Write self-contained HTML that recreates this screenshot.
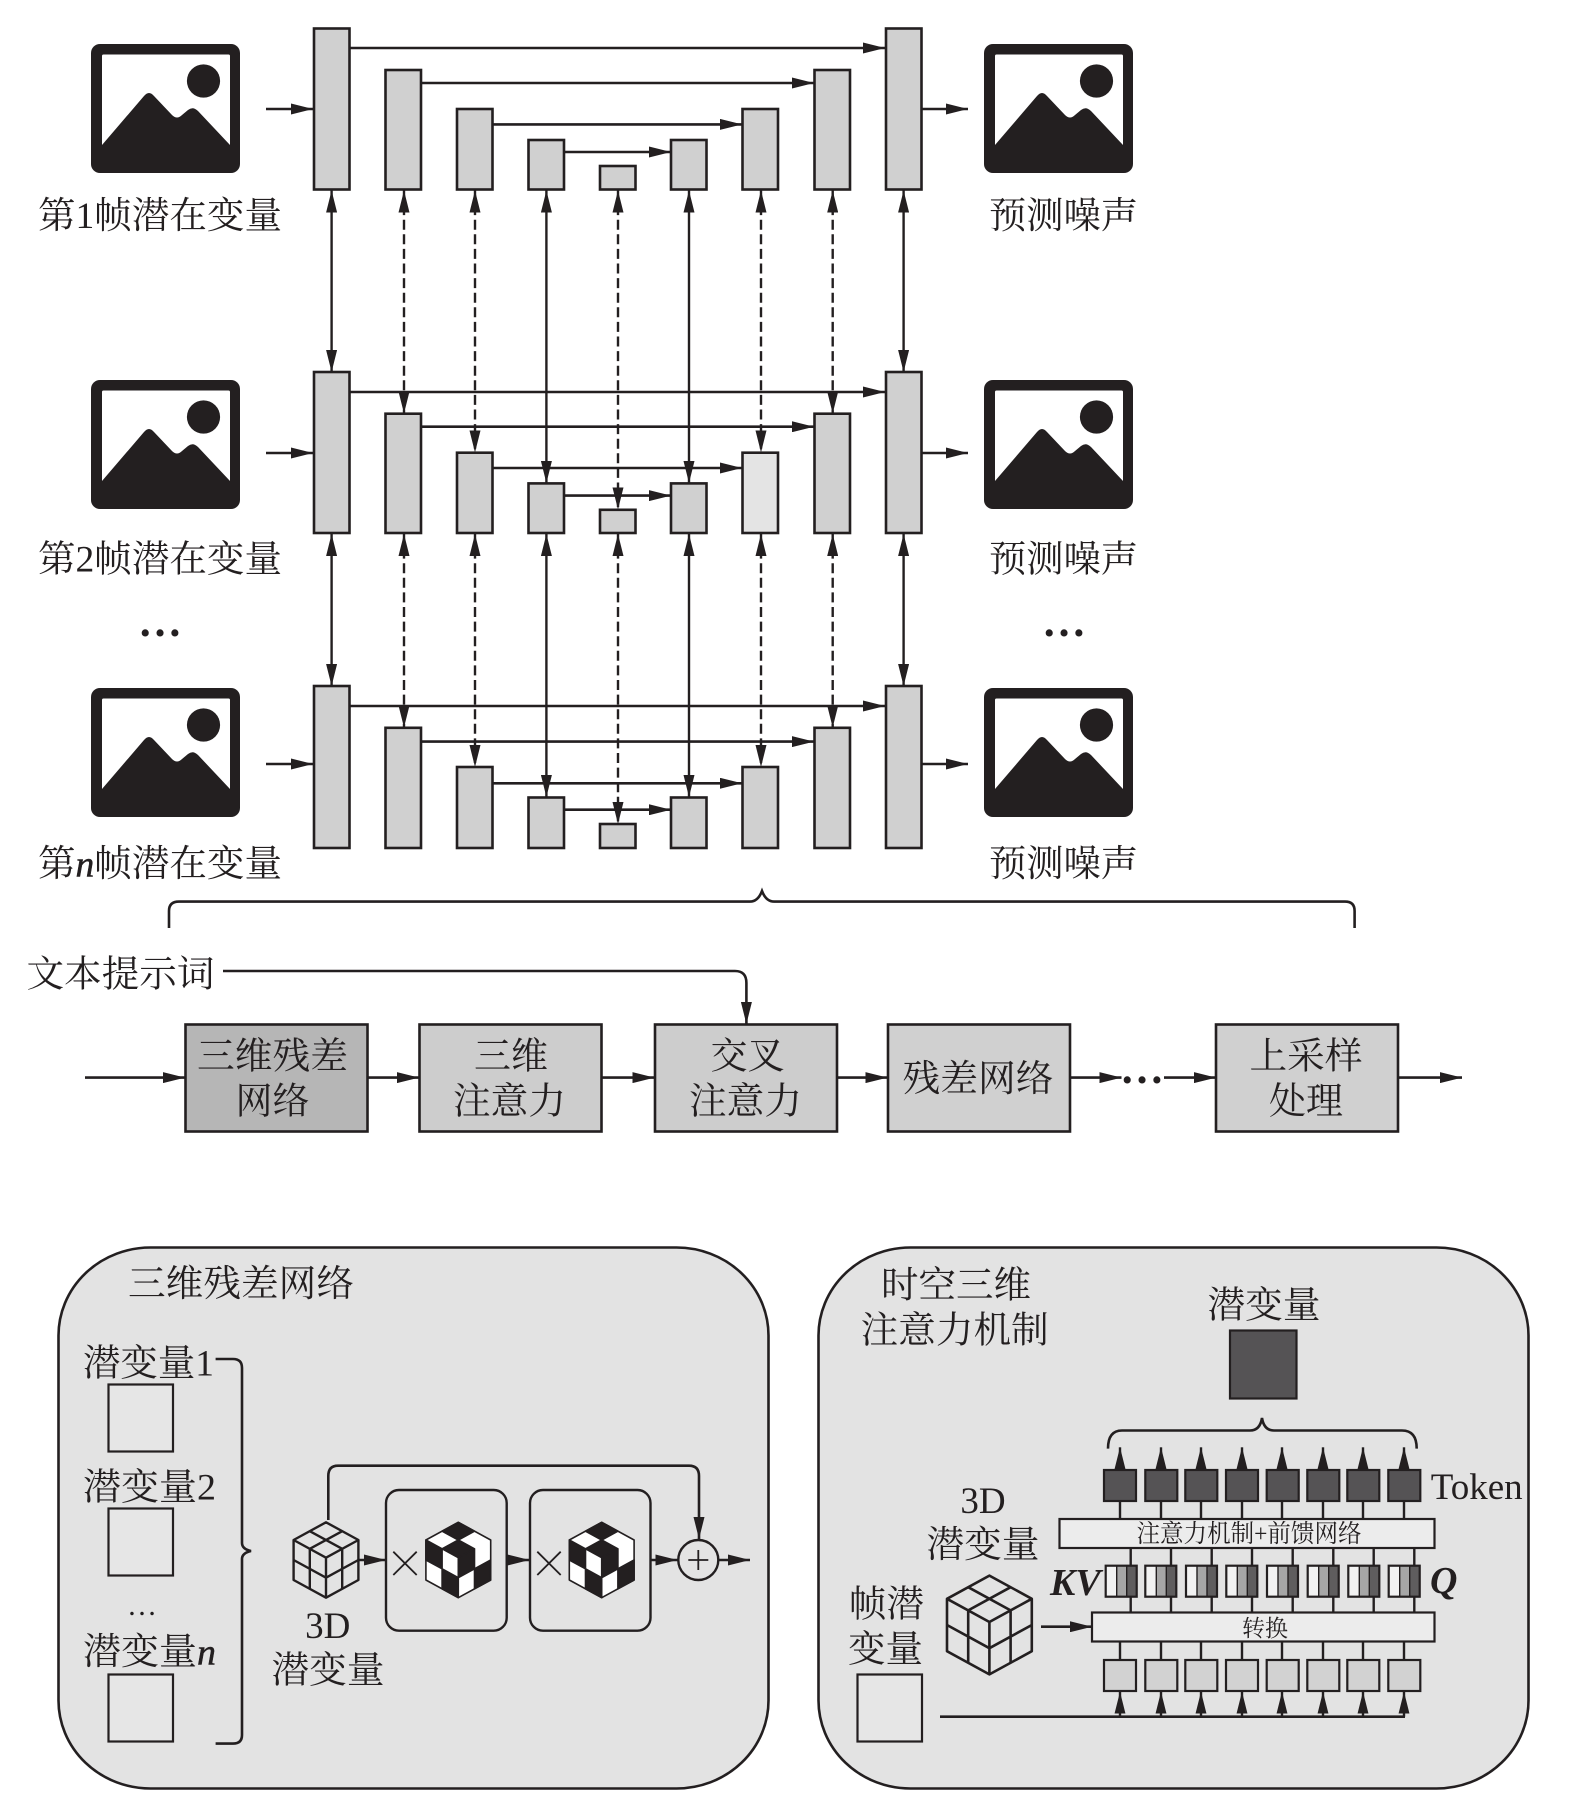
<!DOCTYPE html>
<html lang="zh"><head><meta charset="utf-8"><title>diagram</title>
<style>
html,body{margin:0;padding:0;background:#fff}
svg{display:block}
text{font-family:"Liberation Serif","Noto Serif CJK SC",serif;fill:#231f20;font-size:37px;dominant-baseline:central}
.m{text-anchor:middle}
.b{font-family:"Liberation Serif",serif;dominant-baseline:alphabetic}
.n{font-style:italic;stroke:#231f20;stroke-width:.5}
.bar{fill:#d0d0d0;stroke:#231f20;stroke-width:2.6}
.l{stroke:#231f20;stroke-width:2.6;fill:none}
.v{stroke:#231f20;stroke-width:2.4;fill:none;marker-start:url(#a);marker-end:url(#a)}
.d{stroke-dasharray:10 4.6}
.h{marker-end:url(#a)}
.s{stroke:#231f20;stroke-width:2.4;fill:none}
</style></head><body>
<svg xmlns="http://www.w3.org/2000/svg" width="1573" height="1809" viewBox="0 0 1573 1809">
<defs>
<marker id="a" viewBox="0 0 22 11" refX="22" refY="5.5" markerUnits="userSpaceOnUse" markerWidth="22" markerHeight="11" orient="auto-start-reverse"><path d="M0 0L22 5.5L0 11z" fill="#231f20"/></marker>
<g id="icon">
<rect x="0" y="0" width="149" height="129" rx="9" fill="#231f20"/>
<rect x="11" y="10.5" width="128" height="92" rx="1.5" fill="#fff"/>
<path d="M11 101L53 52Q58 46 63 52L81 71Q86 76 91 71L97 66Q102 62 107 67L139 101V106H11z" fill="#231f20"/>
<circle cx="112.5" cy="37" r="16.6" fill="#231f20"/>
</g>
<g id="wire" fill="none" stroke="#231f20" stroke-width="2.4" stroke-linejoin="round">
<path d="M0 0L-32.4 17.7V57.7L0 75.4L32.4 57.7V17.7z"/>
<path d="M-32.4 17.7L0 35.4L32.4 17.7M0 35.4V75.4M-16.2 8.85L16.2 26.55M16.2 8.85L-16.2 26.55M-16.2 26.55V66.55M16.2 26.55V66.55M-32.4 37.7L0 55.4L32.4 37.7"/>
</g>
<g id="wire2" fill="none" stroke="#231f20" stroke-width="2.6" stroke-linejoin="round">
<path d="M0 0L-42.4 23.2V75.6L0 98.8L42.4 75.6V23.2z"/>
<path d="M-42.4 23.2L0 46.4L42.4 23.2M0 46.4V98.8M-21.2 11.6L21.2 34.8M21.2 11.6L-21.2 34.8M-21.2 34.8V87.2M21.2 34.8V87.2M-42.4 49.4L0 72.6L42.4 49.4"/>
</g>
<g id="check" stroke="#231f20" stroke-width="1.6" stroke-linejoin="round">
<path d="M0 0L-32.4 17.7V57.7L0 75.4L32.4 57.7V17.7z" fill="#fff"/>
<path fill="#231f20" d="M0 0L16.2 8.85L0 17.7L-16.2 8.85zM0 17.7L16.2 26.55L0 35.4L-16.2 26.55zM-32.4 17.7L-16.2 26.55V46.55L-32.4 37.7zM-16.2 46.55L0 55.4V75.4L-16.2 66.55zM0 35.4L16.2 26.55V46.55L0 55.4zM16.2 46.55L32.4 37.7V57.7L16.2 66.55z"/>
</g>
<g id="kv">
<rect x="0" y="0" width="11" height="31" fill="#f2f2f2"/><rect x="11" y="0" width="10" height="31" fill="#a6a6a6"/><rect x="21" y="0" width="10" height="31" fill="#5f5d5e"/>
<path d="M11 0V31M21 0V31" stroke="#231f20" stroke-width="1.4"/>
<rect x="0" y="0" width="31" height="31" fill="none" stroke="#231f20" stroke-width="2.2"/>
</g>
<rect id="tok" width="32" height="31" fill="#555355" stroke="#231f20" stroke-width="2.2"/>
<rect id="lit" width="32" height="31" fill="#d2d2d2" stroke="#231f20" stroke-width="2.2"/>
</defs>

<use href="#icon" x="91" y="44"/><use href="#icon" x="984" y="44"/>
<use href="#icon" x="91" y="380"/><use href="#icon" x="984" y="380"/>
<use href="#icon" x="91" y="688"/><use href="#icon" x="984" y="688"/>

<path class="l h" d="M266 109H313"/><path class="l h" d="M921.5 109H968"/>
<path class="l h" d="M266 453H313"/><path class="l h" d="M921.5 453H968"/>
<path class="l h" d="M266 764H313"/><path class="l h" d="M921.5 764H968"/>

<rect class="bar" x="314" y="28.5" width="35.5" height="161"/><rect class="bar" x="385.5" y="70" width="35.5" height="119.5"/><rect class="bar" x="457" y="109" width="35.5" height="80.5"/><rect class="bar" x="528.5" y="140" width="35.5" height="49.5"/><rect class="bar" x="600" y="166" width="35.5" height="23.5"/><rect class="bar" x="671" y="140" width="35.5" height="49.5"/><rect class="bar" x="742.5" y="109" width="35.5" height="80.5"/><rect class="bar" x="814.5" y="70" width="35.5" height="119.5"/><rect class="bar" x="886" y="28.5" width="35.5" height="161"/>
<rect class="bar" x="314" y="372" width="35.5" height="161"/><rect class="bar" x="385.5" y="413.7" width="35.5" height="119.3"/><rect class="bar" x="457" y="452.7" width="35.5" height="80.3"/><rect class="bar" x="528.5" y="483.4" width="35.5" height="49.6"/><rect class="bar" x="600" y="509.8" width="35.5" height="23.2"/><rect class="bar" x="671" y="483.4" width="35.5" height="49.6"/><rect class="bar" x="742.5" y="452.7" width="35.5" height="80.3" style="fill:#e4e4e4"/><rect class="bar" x="814.5" y="413.7" width="35.5" height="119.3"/><rect class="bar" x="886" y="372" width="35.5" height="161"/>
<rect class="bar" x="314" y="686" width="35.5" height="162"/><rect class="bar" x="385.5" y="727.8" width="35.5" height="120.2"/><rect class="bar" x="457" y="767" width="35.5" height="81"/><rect class="bar" x="528.5" y="797.5" width="35.5" height="50.5"/><rect class="bar" x="600" y="824" width="35.5" height="24"/><rect class="bar" x="671" y="797.5" width="35.5" height="50.5"/><rect class="bar" x="742.5" y="767" width="35.5" height="81"/><rect class="bar" x="814.5" y="727.8" width="35.5" height="120.2"/><rect class="bar" x="886" y="686" width="35.5" height="162"/>

<path class="l h" d="M349.5 48H885"/><path class="l h" d="M421 83H814"/><path class="l h" d="M492.5 124.4H742"/><path class="l h" d="M564 152H671"/>
<path class="l h" d="M349.5 392H885"/><path class="l h" d="M421 426.7H814"/><path class="l h" d="M492.5 468H742"/><path class="l h" d="M564 495.6H671"/>
<path class="l h" d="M349.5 706H885"/><path class="l h" d="M421 741.6H814"/><path class="l h" d="M492.5 783.3H742"/><path class="l h" d="M564 809.7H671"/>

<path class="v" d="M331.6 190.5V372"/><path class="v d" d="M404 190.5V413.5"/><path class="v d" d="M475 190.5V452.5"/><path class="v" d="M546.4 190.5V483"/><path class="v d" d="M618 190.5V509.5"/><path class="v" d="M689 190.5V483"/><path class="v d" d="M761 190.5V452.5"/><path class="v d" d="M832.7 190.5V413.5"/><path class="v" d="M903.6 190.5V372"/>
<path class="v" d="M331.6 534V686"/><path class="v d" d="M404 534V727.5"/><path class="v d" d="M475 534V767"/><path class="v" d="M546.4 534V797"/><path class="v d" d="M618 534V824"/><path class="v" d="M689 534V797"/><path class="v d" d="M761 534V767"/><path class="v d" d="M832.7 534V727.5"/><path class="v" d="M903.6 534V686"/>

<text x="38" y="216.5" textLength="244" lengthAdjust="spacingAndGlyphs">第1帧潜在变量</text>
<text x="38" y="560" textLength="244" lengthAdjust="spacingAndGlyphs">第2帧潜在变量</text>
<text x="38" y="864.5" textLength="244" lengthAdjust="spacingAndGlyphs">第<tspan class="n">n</tspan>帧潜在变量</text>
<text x="989" y="216.5" textLength="149" lengthAdjust="spacingAndGlyphs">预测噪声</text>
<text x="989" y="560" textLength="149" lengthAdjust="spacingAndGlyphs">预测噪声</text>
<text x="989" y="864.5" textLength="149" lengthAdjust="spacingAndGlyphs">预测噪声</text>
<text class="m b" x="160" y="636" font-weight="bold" style="font-size:44px">…</text>
<text class="m b" x="1064" y="636" font-weight="bold" style="font-size:44px">…</text>

<path class="l" d="M169 928V911Q169 901.6 179 901.6H750Q758 901.6 762 891Q766 901.6 774 901.6H1345Q1354.6 901.6 1354.6 911V928"/>

<text x="26.5" y="975" textLength="188" lengthAdjust="spacingAndGlyphs">文本提示词</text>
<path class="l h" d="M223 971H735Q746.4 971 746.4 983V1024"/>

<rect class="bar" x="185.5" y="1024.5" width="182" height="107" style="fill:#b6b6b6"/>
<rect class="bar" x="419.5" y="1024.5" width="182" height="107" style="fill:#cdcdcd"/>
<rect class="bar" x="655" y="1024.5" width="182" height="107" style="fill:#cdcdcd"/>
<rect class="bar" x="888" y="1024.5" width="182" height="107"/>
<rect class="bar" x="1216" y="1024.5" width="182" height="107"/>
<path class="l h" d="M85 1077.6H185"/><path class="l h" d="M367.5 1077.6H419"/><path class="l h" d="M601.5 1077.6H654.5"/><path class="l h" d="M837 1077.6H887.5"/><path class="l h" d="M1070 1077.6H1121.5"/><path class="l h" d="M1164 1077.6H1216"/><path class="l h" d="M1398.5 1077.6H1462"/>
<text class="m b" x="1142" y="1083" font-weight="bold" style="font-size:44px">…</text>
<text class="m" x="272.5" y="1057" textLength="151" lengthAdjust="spacingAndGlyphs">三维残差</text>
<text class="m" x="272.5" y="1102">网络</text>
<text class="m" x="511" y="1057">三维</text>
<text class="m" x="509.5" y="1102" textLength="113" lengthAdjust="spacingAndGlyphs">注意力</text>
<text class="m" x="747.5" y="1057">交叉</text>
<text class="m" x="745.5" y="1102" textLength="113" lengthAdjust="spacingAndGlyphs">注意力</text>
<text class="m" x="978" y="1079.5" textLength="151" lengthAdjust="spacingAndGlyphs">残差网络</text>
<text class="m" x="1306" y="1057" textLength="113" lengthAdjust="spacingAndGlyphs">上采样</text>
<text class="m" x="1306" y="1102">处理</text>

<rect x="58.5" y="1247.5" width="710" height="541" rx="92" ry="88" fill="#e3e3e3" stroke="#231f20" stroke-width="2.6"/>
<text x="128" y="1284.5" textLength="226" lengthAdjust="spacingAndGlyphs">三维残差网络</text>
<text x="83" y="1364" textLength="131" lengthAdjust="spacingAndGlyphs">潜变量1</text>
<rect x="108.5" y="1384.5" width="64.5" height="67" fill="#e6e6e6" stroke="#231f20" stroke-width="2.2"/>
<text x="83" y="1488" textLength="133" lengthAdjust="spacingAndGlyphs">潜变量2</text>
<rect x="108.5" y="1508.5" width="64.5" height="67" fill="#e6e6e6" stroke="#231f20" stroke-width="2.2"/>
<text class="m b" x="142" y="1615" style="font-size:30px">…</text>
<text x="83" y="1652.5" textLength="133" lengthAdjust="spacingAndGlyphs">潜变量<tspan class="n">n</tspan></text>
<rect x="108.5" y="1674.5" width="64.5" height="67" fill="#e6e6e6" stroke="#231f20" stroke-width="2.2"/>
<path class="l" d="M215.6 1359H233Q242 1359 242 1368V1543Q242 1549 251 1551Q242 1553 242 1559V1735Q242 1743.6 233 1743.6H215.6"/>

<use href="#wire" x="326" y="1522.3"/>
<text class="m b" x="327.7" y="1638" style="font-size:37px">3D</text>
<text x="271.5" y="1671" textLength="113" lengthAdjust="spacingAndGlyphs">潜变量</text>
<path class="l" d="M328.3 1520V1476Q328.3 1465.7 338 1465.7H689Q699 1465.7 699 1476V1539" style="marker-end:url(#a)"/>
<rect x="386" y="1490" width="120.7" height="140.7" rx="13" fill="none" stroke="#231f20" stroke-width="2.4"/>
<rect x="530" y="1490" width="120.5" height="140.7" rx="13" fill="none" stroke="#231f20" stroke-width="2.4"/>
<path d="M393.3 1551.7L416.7 1575M416.7 1551.7L393.3 1575M537.3 1551.7L560.7 1575M560.7 1551.7L537.3 1575" stroke="#231f20" stroke-width="1.8" fill="none"/>
<use href="#check" x="458.3" y="1522.3"/><use href="#check" x="601.7" y="1522.3"/>
<path class="l h" d="M358.7 1560H386"/><path class="l h" d="M506.7 1560H529.5"/><path class="l h" d="M650.5 1560H677.5"/>
<circle cx="698.3" cy="1560" r="20" fill="none" stroke="#231f20" stroke-width="2.4"/>
<path d="M688.3 1560H708.3M698.3 1550V1570" stroke="#231f20" stroke-width="1.8"/>
<path class="l h" d="M719 1560H750"/>

<rect x="818.5" y="1247.5" width="710" height="541" rx="92" ry="88" fill="#e3e3e3" stroke="#231f20" stroke-width="2.6"/>
<text class="m" x="956" y="1286" textLength="150" lengthAdjust="spacingAndGlyphs">时空三维</text>
<text class="m" x="954.7" y="1331" textLength="188" lengthAdjust="spacingAndGlyphs">注意力机制</text>
<text class="m" x="1264" y="1306" textLength="113" lengthAdjust="spacingAndGlyphs">潜变量</text>
<rect x="1230" y="1330.5" width="66.5" height="68" fill="#555355" stroke="#231f20" stroke-width="2.2"/>
<path class="l" d="M1108 1448.6Q1108 1430.5 1122 1430.5H1250Q1260 1430.5 1262 1418Q1264 1430.5 1274 1430.5H1402Q1416.7 1430.5 1416.7 1448.6"/>

<path class="s h" d="M1120 1470V1447.3"/><path class="s h" d="M1161 1470V1447.3"/><path class="s h" d="M1201 1470V1447.3"/><path class="s h" d="M1242 1470V1447.3"/><path class="s h" d="M1282 1470V1447.3"/><path class="s h" d="M1323 1470V1447.3"/><path class="s h" d="M1363 1470V1447.3"/><path class="s h" d="M1404 1470V1447.3"/>
<use href="#tok" x="1104" y="1470"/><use href="#tok" x="1145.3" y="1470"/><use href="#tok" x="1185.3" y="1470"/><use href="#tok" x="1226" y="1470"/><use href="#tok" x="1266.7" y="1470"/><use href="#tok" x="1307.3" y="1470"/><use href="#tok" x="1347.3" y="1470"/><use href="#tok" x="1388.3" y="1470"/>
<text class="b" x="1430.7" y="1499" style="font-size:37px">Token</text>
<path class="s" d="M1120 1501V1519M1161 1501V1519M1201 1501V1519M1242 1501V1519M1282 1501V1519M1323 1501V1519M1363 1501V1519M1404 1501V1519"/>
<rect x="1059.5" y="1519" width="375" height="29" fill="#ececec" stroke="#231f20" stroke-width="2.2"/>
<text class="m" x="1249" y="1534.5" textLength="225" lengthAdjust="spacingAndGlyphs" style="font-size:25px">注意力机制+前馈网络</text>
<path class="s" d="M1130.7 1548V1566M1171 1548V1566M1211.7 1548V1566M1252 1548V1566M1292.7 1548V1566M1333.3 1548V1566M1373.7 1548V1566M1414.3 1548V1566M1130.7 1597V1612.5M1171 1597V1612.5M1211.7 1597V1612.5M1252 1597V1612.5M1292.7 1597V1612.5M1333.3 1597V1612.5M1373.7 1597V1612.5M1414.3 1597V1612.5"/>
<use href="#kv" x="1105.7" y="1565.7"/><use href="#kv" x="1145.3" y="1565.7"/><use href="#kv" x="1186" y="1565.7"/><use href="#kv" x="1226.3" y="1565.7"/><use href="#kv" x="1267" y="1565.7"/><use href="#kv" x="1307.7" y="1565.7"/><use href="#kv" x="1348.3" y="1565.7"/><use href="#kv" x="1388.7" y="1565.7"/>
<text class="b" x="1050" y="1595" font-weight="bold" font-style="italic" style="font-size:38px">KV</text>
<text class="b" x="1430" y="1593" font-weight="bold" font-style="italic" style="font-size:38px">Q</text>
<rect x="1092" y="1612.5" width="342.5" height="29" fill="#ececec" stroke="#231f20" stroke-width="2.2"/>
<text class="m" x="1265" y="1628.5" style="font-size:23px">转换</text>
<path class="l h" d="M1041 1626.7H1092"/>
<path class="s" d="M1120 1641.5V1660M1161 1641.5V1660M1201 1641.5V1660M1242 1641.5V1660M1282 1641.5V1660M1323 1641.5V1660M1363 1641.5V1660M1404 1641.5V1660"/>
<use href="#lit" x="1104" y="1660"/><use href="#lit" x="1145.3" y="1660"/><use href="#lit" x="1185.3" y="1660"/><use href="#lit" x="1226" y="1660"/><use href="#lit" x="1266.7" y="1660"/><use href="#lit" x="1307.3" y="1660"/><use href="#lit" x="1347.3" y="1660"/><use href="#lit" x="1388.3" y="1660"/>
<path class="s h" d="M1120 1716.7V1691.7"/><path class="s h" d="M1161 1716.7V1691.7"/><path class="s h" d="M1201 1716.7V1691.7"/><path class="s h" d="M1242 1716.7V1691.7"/><path class="s h" d="M1282 1716.7V1691.7"/><path class="s h" d="M1323 1716.7V1691.7"/><path class="s h" d="M1363 1716.7V1691.7"/><path class="s h" d="M1404 1716.7V1691.7"/>
<path class="l" d="M940 1716.7H1405"/>

<text class="m b" x="983" y="1513" style="font-size:37px">3D</text>
<text x="926.5" y="1545.5" textLength="113" lengthAdjust="spacingAndGlyphs">潜变量</text>
<use href="#wire2" x="989.4" y="1575.6"/>
<text class="m" x="886.5" y="1605" textLength="75" lengthAdjust="spacingAndGlyphs">帧潜</text>
<text class="m" x="885.5" y="1650" textLength="75" lengthAdjust="spacingAndGlyphs">变量</text>
<rect x="857.5" y="1674.5" width="64.5" height="67" fill="#e6e6e6" stroke="#231f20" stroke-width="2.2"/>
</svg>
</body></html>
